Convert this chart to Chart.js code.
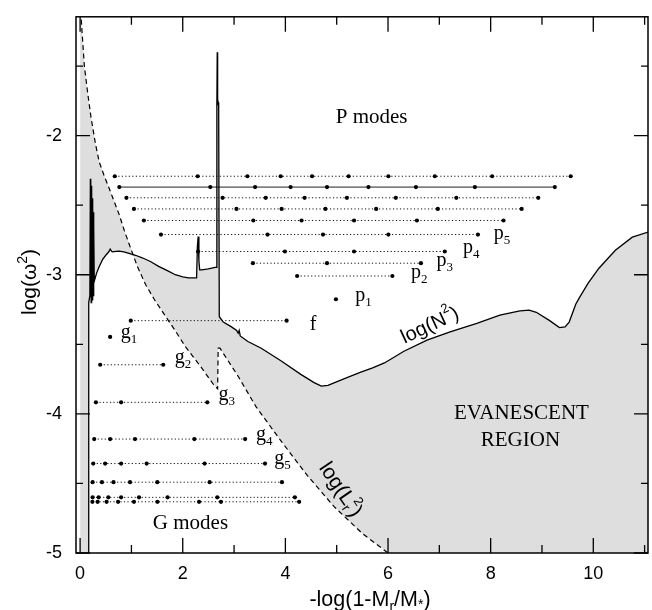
<!DOCTYPE html>
<html><head><meta charset="utf-8">
<script src="https://cdn.jsdelivr.net/npm/chart.js@4.4.1/dist/chart.umd.min.js"></script>
<style>html,body{margin:0;padding:0;background:#fff;}canvas{display:block;}</style>
</head><body>
<canvas id="c" width="652" height="610"></canvas>
<script>
// ---------- data ----------
// Brunt-Vaisala frequency log(N^2)
const bvX = [0,0.165,0.168,0.19,0.2,0.205,0.21,0.215,0.22,0.225,0.23,0.235,0.24,0.245,0.25,0.255,0.26,0.265,0.27,0.276,0.32,0.373,0.44,0.50,0.56,0.586,0.61,0.63,0.70,0.76,0.85,0.953,1.08,1.21,1.37,1.53,1.70,1.855,2.0,2.11,2.27,2.285,2.30,2.315,2.33,2.37,2.5,2.655,2.665,2.672,2.68,2.69,2.70,2.712,2.72,2.79,2.95,3.05,3.08,3.10,3.12,3.27,3.53,3.92,4.30,4.56,4.70,4.83,4.96,5.2,5.47,5.7,5.93,6.31,6.76,7.21,7.73,8.18,8.57,8.75,8.89,9.15,9.34,9.45,9.53,9.66,9.73,9.9,10.11,10.43,10.76,11.1];
const bvY = [-6.5,-6.5,-3.2,-3.15,-2.31,-3.15,-2.33,-3.2,-2.36,-3.12,-2.4,-3.18,-2.45,-3.1,-2.48,-3.15,-2.55,-3.1,-2.65,-3.047,-2.99,-2.94,-2.89,-2.86,-2.835,-2.815,-2.83,-2.836,-2.832,-2.83,-2.836,-2.847,-2.86,-2.878,-2.905,-2.94,-2.97,-3.0,-3.015,-3.023,-3.023,-2.8,-2.725,-2.9,-2.965,-2.965,-2.958,-2.946,-1.77,-1.40,-1.77,-1.76,-1.78,-3.3,-3.305,-3.34,-3.375,-3.40,-3.42,-3.40,-3.44,-3.48,-3.528,-3.62,-3.716,-3.775,-3.80,-3.795,-3.775,-3.74,-3.70,-3.67,-3.634,-3.55,-3.47,-3.41,-3.35,-3.29,-3.26,-3.255,-3.27,-3.33,-3.38,-3.375,-3.34,-3.21,-3.164,-3.06,-2.953,-2.824,-2.73,-2.69];
// Lamb frequency log(L_r^2)
const lambX = [0,0.02,0.05,0.083,0.15,0.213,0.30,0.373,0.47,0.566,0.66,0.76,0.86,0.953,1.115,1.275,1.45,1.63,1.85,2.05,2.35,2.595,2.68,2.69,2.725,3.08,3.43,3.92,4.43,4.95,5.5,6.0,7.0,11.1];
const lambY = [-0.8,-1.15,-1.32,-1.50,-1.70,-1.87,-2.06,-2.19,-2.29,-2.378,-2.47,-2.566,-2.68,-2.777,-2.94,-3.07,-3.18,-3.28,-3.40,-3.516,-3.66,-3.787,-3.82,-3.528,-3.528,-3.73,-3.95,-4.197,-4.444,-4.667,-4.86,-5.0,-5.3,-6.5];
// p-mode rows (top to bottom): log(omega^2) level and positions of the nodes
const pModeY = [-2.292,-2.370,-2.447,-2.527,-2.610,-2.711,-2.833,-2.917,-3.009];
const pModeX = [
  [0.676,2.291,3.260,3.908,4.520,5.232,6.007,6.912,8.029,9.560],
  [0.764,2.537,3.410,4.102,4.811,5.619,6.544,7.693,9.250],
  [0.903,2.776,3.617,4.375,5.199,6.152,7.331,8.928],
  [1.049,3.047,3.927,4.780,5.769,6.970,8.604],
  [1.243,3.375,4.315,5.338,6.563,8.250],
  [1.576,3.652,4.733,6.007,7.752],
  [2.299,3.991,5.338,7.106],
  [3.367,4.811,6.641],
  [4.229,6.085]
];
const p1X = [4.985]; const p1Y = -3.176;
const fModeX = [0.987,4.024]; const fModeY = -3.330;
const g1X = [0.585]; const g1Y = -3.447;
const gModeY = [-3.647,-3.917,-4.181,-4.357,-4.491,-4.600,-4.632];
const gModeX = [
  [0.392,1.620],
  [0.308,0.799,2.479],
  [0.275,0.585,1.070,2.227,3.216],
  [0.256,0.488,0.799,1.297,2.427,3.603],
  [0.244,0.425,0.651,0.973,1.504,2.524,3.933],
  [0.244,0.361,0.550,0.799,1.148,1.704,2.673,4.185],
  [0.240,0.341,0.516,0.740,1.049,1.506,2.318,2.745,4.268]
];
const xTicks = [0,2,4,6,8,10];
const xMinor = [1,3,5,7,9,11];
const yTicks = [-5,-4,-3,-2];
const yMinor = [-4.5,-3.5,-2.5,-1.5];

// ---------- chart ----------
const FS = "'Liberation Serif','Times New Roman',serif";
const FA = "'Liberation Sans',Arial,Helvetica,sans-serif";
const pts = (xs, ys) => xs.map((x, i) => ({x, y: Array.isArray(ys) ? ys[i] : ys}));

const rowStyle = (solid) => ({
  showLine: true, borderColor: solid ? '#222' : '#111', borderWidth: 1,
  borderDash: solid ? [] : [1.2, 2.3], pointRadius: 2.1, pointBackgroundColor: '#000',
  pointBorderWidth: 0, fill: false, tension: 0
});

const datasets = [
  {data: pts(bvX, bvY), showLine: true, borderColor: '#000', borderWidth: 1.3, pointRadius: 0,
   fill: 1, backgroundColor: '#dedede', tension: 0},
  {data: pts(lambX, lambY), showLine: true, borderColor: '#000', borderWidth: 1.2, borderDash: [5, 3.5],
   pointRadius: 0, fill: false, tension: 0}
];
pModeY.forEach((y, i) => datasets.push(Object.assign({data: pts(pModeX[i], y)}, rowStyle(i === 1))));
datasets.push(Object.assign({data: pts(p1X, p1Y)}, rowStyle(false)));
datasets.push(Object.assign({data: pts(fModeX, fModeY)}, rowStyle(false)));
datasets.push(Object.assign({data: pts(g1X, g1Y)}, rowStyle(false)));
gModeY.forEach((y, i) => datasets.push(Object.assign({data: pts(gModeX[i], y)}, rowStyle(false))));

function rich(ctx, parts, px, py, angle, align, baseline) {
  ctx.save();
  ctx.translate(px, py);
  ctx.rotate(angle * Math.PI / 180);
  ctx.textBaseline = baseline || 'alphabetic';
  ctx.textAlign = 'left';
  let w = 0;
  parts.forEach(p => { ctx.font = p[1] + 'px ' + p[3]; p.w = ctx.measureText(p[0]).width; if (!p[4]) w += p.w; });
  let cx = align === 'center' ? -w / 2 : 0;
  parts.forEach(p => { ctx.font = p[1] + 'px ' + p[3]; ctx.fillText(p[0], cx, p[2]); if (!p[4]) cx += p.w; });
  ctx.restore();
}

const deco = {
  id: 'deco',
  afterDatasetsDraw(chart) {
    const {ctx, chartArea: a, scales: {x, y}} = chart;
    ctx.save();
    ctx.strokeStyle = '#000';
    ctx.lineWidth = 1.5;
    ctx.strokeRect(a.left, a.top, a.right - a.left, a.bottom - a.top);
    ctx.lineWidth = 1.3;
    ctx.beginPath();
    const xt = (v, L) => { const p = x.getPixelForValue(v); ctx.moveTo(p, a.bottom); ctx.lineTo(p, a.bottom - L); ctx.moveTo(p, a.top); ctx.lineTo(p, a.top + L); };
    const yt = (v, L) => { const p = y.getPixelForValue(v); ctx.moveTo(a.left, p); ctx.lineTo(a.left + L, p); ctx.moveTo(a.right, p); ctx.lineTo(a.right - L, p); };
    xTicks.forEach(v => xt(v, 15)); xMinor.forEach(v => xt(v, 8));
    yTicks.forEach(v => yt(v, 14)); yMinor.forEach(v => yt(v, 7));
    ctx.stroke();

    ctx.fillStyle = '#000';
    const X = v => x.getPixelForValue(v), Y = v => y.getPixelForValue(v);
    // region labels
    rich(ctx, [['P modes', 21, 0, FS]], X(5.68), Y(-1.87), 0, 'center', 'middle');
    rich(ctx, [['G modes', 21, 0, FS]], X(2.15), Y(-4.788), 0, 'center', 'middle');
    rich(ctx, [['EVANESCENT', 21, 0, FS]], X(8.60), Y(-3.994), 0, 'center', 'middle');
    rich(ctx, [['REGION', 21, 0, FS]], X(8.58), Y(-4.188), 0, 'center', 'middle');
    rich(ctx, [['f', 20, 0, FS]], X(4.476), Y(-3.353) + 6, 0, 'left');
    // mode labels
    const modeLab = [
      ['p', '1', 5.362, -3.164], ['p', '2', 6.447, -3.0], ['p', '3', 6.943, -2.917],
      ['p', '4', 7.461, -2.824], ['p', '5', 8.062, -2.725],
      ['g', '1', 0.793, -3.435], ['g', '2', 1.845, -3.614], ['g', '3', 2.698, -3.882],
      ['g', '4', 3.429, -4.164], ['g', '5', 3.784, -4.341]
    ];
    modeLab.forEach(m => rich(ctx, [[m[0], 20, 0, FS], [m[1], 13, 5, FS]], X(m[2]), Y(m[3]) + 3, 0, 'left'));
    // curve labels
    rich(ctx, [['log(N', 20, 0, FA], ['2', 13, -9, FA], [')', 20, 0, FA]], X(6.82), Y(-3.367), -25, 'center', 'middle');
    rich(ctx, [['log(L', 21, 0, FA], ['r', 13, 6, FA, true], ['2', 13, -8, FA], [')', 21, 0, FA]], X(5.07), Y(-4.545), 56, 'center', 'middle');
    // axis titles
    rich(ctx, [['log(\u03c9', 21, 0, FA], ['2', 14, -9, FA], [')', 21, 0, FA]], 36, 282, -90, 'center');
    rich(ctx, [['-log(1-M', 21.5, 0, FA], ['r', 14, 5, FA], ['/M', 21.5, 0, FA], ['*', 14, 3, FA], [')', 21.5, 0, FA]], 370, 606, 0, 'center');
    ctx.restore();
  }
};

new Chart(document.getElementById('c'), {
  type: 'line',
  data: {datasets},
  plugins: [deco],
  options: {
    responsive: false, animation: false, devicePixelRatio: 1,
    layout: {padding: {top: 7, right: 1, left: 0, bottom: 0}},
    plugins: {legend: {display: false}, tooltip: {enabled: false}, filler: {drawTime: 'beforeDatasetsDraw'}},
    scales: {
      x: {type: 'linear', min: -0.08, max: 11.066,
          grid: {display: false}, border: {display: false},
          ticks: {color: '#000', font: {family: FA, size: 18}, padding: 2, includeBounds: false},
          afterBuildTicks: s => { s.ticks = xTicks.map(v => ({value: v})); },
          afterFit: s => { s.height = 57; }},
      y: {type: 'linear', min: -5, max: -1.146,
          grid: {display: false}, border: {display: false},
          ticks: {color: '#000', font: {family: FA, size: 18}, padding: 6, includeBounds: false},
          afterBuildTicks: s => { s.ticks = yTicks.map(v => ({value: v})); },
          afterFit: s => { s.width = 76; }}
    }
  }
});
</script>
</body></html>
